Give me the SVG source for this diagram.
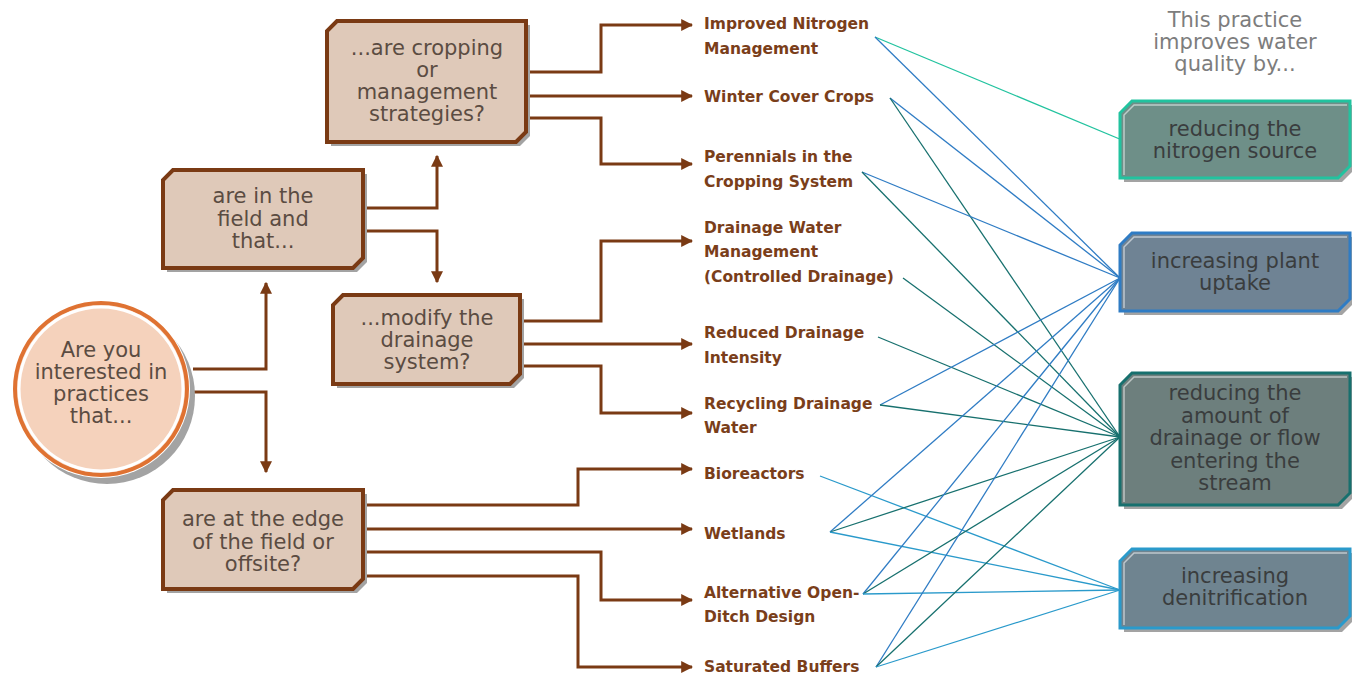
<svg xmlns="http://www.w3.org/2000/svg" width="1352" height="676" viewBox="0 0 1352 676">
<defs>
<marker id="ah" viewBox="0 0 10 10" refX="9" refY="5" markerWidth="12" markerHeight="12" markerUnits="userSpaceOnUse" orient="auto">
<path d="M0,0 L10,5 L0,10 z" fill="#7a3a14"/>
</marker>
<style>
.tree{fill:none;stroke:#7a3a14;stroke-width:3;}
.shadow{fill:#a3a3a3;}
.bbox{fill:#dfc9b9;stroke:#7a3a14;stroke-width:4;stroke-linejoin:miter;}
.btxt{font-family:"DejaVu Sans",sans-serif;font-size:21px;fill:#5b4c42;text-anchor:middle;}
.rtxt{font-family:"DejaVu Sans",sans-serif;font-size:21px;fill:#3a3d3e;text-anchor:middle;}
.htxt{font-family:"DejaVu Sans",sans-serif;font-size:21px;fill:#7d7d7d;text-anchor:middle;}
.lbl{font-family:"DejaVu Sans",sans-serif;font-size:15.5px;font-weight:bold;fill:#7a3e1a;}
.hl{fill:none;stroke:#ffffff;stroke-opacity:0.55;stroke-width:1.5;}
.c1{stroke:#22c39f;stroke-width:1.3;fill:none;}
.c2{stroke:#2f7cc4;stroke-width:1.3;fill:none;}
.c3{stroke:#17706e;stroke-width:1.3;fill:none;}
.c4{stroke:#2a9acb;stroke-width:1.3;fill:none;}
</style>
</defs>
<rect width="1352" height="676" fill="#ffffff"/>

<g id="connectors">
<polyline class="tree" points="193,369 266,369 266,283" marker-end="url(#ah)"/>
<polyline class="tree" points="193,392 266,392 266,472" marker-end="url(#ah)"/>
<polyline class="tree" points="363,208 437,208 437,156" marker-end="url(#ah)"/>
<polyline class="tree" points="363,231 437,231 437,282" marker-end="url(#ah)"/>
<polyline class="tree" points="526,72 601,72 601,25 692,25" marker-end="url(#ah)"/>
<polyline class="tree" points="526,96 692,96" marker-end="url(#ah)"/>
<polyline class="tree" points="526,118 601,118 601,164 692,164" marker-end="url(#ah)"/>
<polyline class="tree" points="520,321 601,321 601,241 692,241" marker-end="url(#ah)"/>
<polyline class="tree" points="520,344 692,344" marker-end="url(#ah)"/>
<polyline class="tree" points="520,366 601,366 601,413 692,413" marker-end="url(#ah)"/>
<polyline class="tree" points="363,505 578,505 578,469 692,469" marker-end="url(#ah)"/>
<polyline class="tree" points="363,529 692,529" marker-end="url(#ah)"/>
<polyline class="tree" points="363,552 601,552 601,600 692,600" marker-end="url(#ah)"/>
<polyline class="tree" points="363,576 578,576 578,667 692,667" marker-end="url(#ah)"/>
<line class="c1" x1="875" y1="37" x2="1122" y2="140"/>
<line class="c2" x1="875" y1="37" x2="1120" y2="278"/>
<line class="c2" x1="890" y1="98" x2="1120" y2="278"/>
<line class="c3" x1="890" y1="98" x2="1120" y2="437"/>
<line class="c2" x1="862" y1="172" x2="1120" y2="278"/>
<line class="c3" x1="862" y1="172" x2="1120" y2="437"/>
<line class="c3" x1="903" y1="278" x2="1120" y2="437"/>
<line class="c3" x1="878" y1="337" x2="1120" y2="437"/>
<line class="c2" x1="880" y1="405" x2="1120" y2="278"/>
<line class="c3" x1="880" y1="405" x2="1120" y2="437"/>
<line class="c4" x1="820" y1="476" x2="1120" y2="590"/>
<line class="c2" x1="830" y1="532" x2="1120" y2="278"/>
<line class="c3" x1="830" y1="532" x2="1120" y2="437"/>
<line class="c4" x1="830" y1="532" x2="1120" y2="590"/>
<line class="c2" x1="863" y1="594" x2="1120" y2="278"/>
<line class="c3" x1="863" y1="594" x2="1120" y2="437"/>
<line class="c4" x1="863" y1="594" x2="1120" y2="590"/>
<line class="c2" x1="876" y1="667" x2="1120" y2="278"/>
<line class="c3" x1="876" y1="667" x2="1120" y2="437"/>
<line class="c4" x1="876" y1="667" x2="1120" y2="590"/>
</g>

<g id="start">
<circle class="shadow" cx="107" cy="396" r="88"/>
<circle cx="101" cy="389" r="89" fill="#ffffff"/>
<circle cx="101" cy="389" r="86" fill="#f5d2bc" stroke="#df7232" stroke-width="4"/>
<circle cx="101" cy="389" r="82" fill="none" stroke="#ffffff" stroke-width="3"/>
<text class="btxt" x="101" y="357">Are you</text>
<text class="btxt" x="101" y="379">interested in</text>
<text class="btxt" x="101" y="401">practices</text>
<text class="btxt" x="101" y="423">that...</text>
</g>

<g id="in-field">
<polygon class="shadow" points="177,174 367,174 367,262 357,272 167,272 167,184"/>
<polygon class="bbox" points="173,170 363,170 363,258 353,268 163,268 163,180"/>
<text class="btxt" x="263" y="203">are in the</text>
<text class="btxt" x="263" y="225.5">field and</text>
<text class="btxt" x="263" y="248">that...</text>
</g>

<g id="cropping">
<polygon class="shadow" points="341,25 530,25 530,136 520,146 331,146 331,35"/>
<polygon class="bbox" points="337,21 526,21 526,132 516,142 327,142 327,31"/>
<text class="btxt" x="427" y="55">...are cropping</text>
<text class="btxt" x="427" y="77">or</text>
<text class="btxt" x="427" y="99">management</text>
<text class="btxt" x="427" y="121">strategies?</text>
</g>

<g id="drainage">
<polygon class="shadow" points="347,299 524,299 524,378 514,388 337,388 337,309"/>
<polygon class="bbox" points="343,295 520,295 520,374 510,384 333,384 333,305"/>
<text class="btxt" x="427" y="325">...modify the</text>
<text class="btxt" x="427" y="347">drainage</text>
<text class="btxt" x="427" y="369">system?</text>
</g>

<g id="edge">
<polygon class="shadow" points="177,494 367,494 367,583 357,593 167,593 167,504"/>
<polygon class="bbox" points="173,490 363,490 363,579 353,589 163,589 163,500"/>
<text class="btxt" x="263" y="526">are at the edge</text>
<text class="btxt" x="263" y="548.5">of the field or</text>
<text class="btxt" x="263" y="571">offsite?</text>
</g>

<g id="practices">
<text class="lbl" x="704" y="29">Improved Nitrogen</text>
<text class="lbl" x="704" y="54">Management</text>
<text class="lbl" x="704" y="102">Winter Cover Crops</text>
<text class="lbl" x="704" y="162">Perennials in the</text>
<text class="lbl" x="704" y="187">Cropping System</text>
<text class="lbl" x="704" y="233">Drainage Water</text>
<text class="lbl" x="704" y="257">Management</text>
<text class="lbl" x="704" y="282">(Controlled Drainage)</text>
<text class="lbl" x="704" y="338">Reduced Drainage</text>
<text class="lbl" x="704" y="363">Intensity</text>
<text class="lbl" x="704" y="409">Recycling Drainage</text>
<text class="lbl" x="704" y="433">Water</text>
<text class="lbl" x="704" y="479">Bioreactors</text>
<text class="lbl" x="704" y="539">Wetlands</text>
<text class="lbl" x="704" y="598">Alternative Open-</text>
<text class="lbl" x="704" y="622">Ditch Design</text>
<text class="lbl" x="704" y="672">Saturated Buffers</text>
</g>

<g id="header">
<text class="htxt" x="1235" y="27">This practice</text>
<text class="htxt" x="1235" y="49">improves water</text>
<text class="htxt" x="1235" y="71">quality by...</text>
</g>

<g id="nitrogen-source">
<polygon class="shadow" points="1136,105 1354,105 1354,170 1342,182 1124,182 1124,117"/>
<polygon points="1132,101 1350,101 1350,166 1338,178 1120,178 1120,113" fill="#6e8f88" stroke="#22c39f" stroke-width="3"/>
<polyline class="hl" points="1124,175 1124,115 1134,105 1347,105"/>
<text class="rtxt" x="1235" y="136">reducing the</text>
<text class="rtxt" x="1235" y="158">nitrogen source</text>
</g>

<g id="plant-uptake">
<polygon class="shadow" points="1136,237 1354,237 1354,303 1342,315 1124,315 1124,249"/>
<polygon points="1132,233 1350,233 1350,299 1338,311 1120,311 1120,245" fill="#6f8394" stroke="#2f7cc4" stroke-width="3"/>
<polyline class="hl" points="1124,308 1124,247 1134,237 1347,237"/>
<text class="rtxt" x="1235" y="268">increasing plant</text>
<text class="rtxt" x="1235" y="290">uptake</text>
</g>

<g id="drainage-amount">
<polygon class="shadow" points="1136,377 1354,377 1354,497 1342,509 1124,509 1124,389"/>
<polygon points="1132,373 1350,373 1350,493 1338,505 1120,505 1120,385" fill="#6d7f7d" stroke="#17706e" stroke-width="3"/>
<polyline class="hl" points="1124,502 1124,387 1134,377 1347,377"/>
<text class="rtxt" x="1235" y="400">reducing the</text>
<text class="rtxt" x="1235" y="422.5">amount of</text>
<text class="rtxt" x="1235" y="445">drainage or flow</text>
<text class="rtxt" x="1235" y="467.5">entering the</text>
<text class="rtxt" x="1235" y="490">stream</text>
</g>

<g id="denitrification">
<polygon class="shadow" points="1136,553 1354,553 1354,620 1342,632 1124,632 1124,565"/>
<polygon points="1132,549 1350,549 1350,616 1338,628 1120,628 1120,561" fill="#6f8490" stroke="#2a9acb" stroke-width="3"/>
<polyline class="hl" points="1124,625 1124,563 1134,553 1347,553"/>
<text class="rtxt" x="1235" y="583">increasing</text>
<text class="rtxt" x="1235" y="605">denitrification</text>
</g>
</svg>
